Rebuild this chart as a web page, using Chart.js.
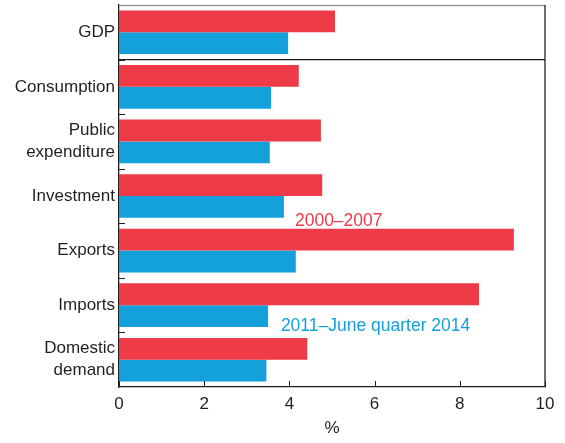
<!DOCTYPE html>
<html>
<head>
<meta charset="utf-8">
<script src="https://cdn.jsdelivr.net/npm/chart.js@4"></script>
<style>
  html, body { margin: 0; padding: 0; background: #fff; }
  #wrap { width: 565px; height: 443px; }
</style>
</head>
<body>
<div id="wrap"><canvas id="myChart" width="565" height="443"></canvas></div>
<script>
const categories = ['GDP', 'Consumption', ['Public', 'expenditure'], 'Investment', 'Exports', 'Imports', ['Domestic', 'demand']];
const series2000 = [5.07, 4.22, 4.74, 4.77, 9.27, 8.45, 4.42];
const series2011 = [3.97, 3.57, 3.54, 3.87, 4.15, 3.50, 3.46];
const xTicks = [0, 2, 4, 6, 8, 10];

const RED = '#ef3a47';
const BLUE = '#13a0db';
const INK = '#231f20';
const FONT = '"Liberation Sans", Arial, sans-serif';

// box, GDP separator, inside tick marks and series labels
const framePlugin = {
    id: 'frame',
    afterDraw(chart) {
        const ctx = chart.ctx;
        const a = chart.chartArea;
        const x = chart.scales.x;
        const y = chart.scales.y;
        ctx.save();
        ctx.lineWidth = 1.3;
        ctx.strokeStyle = '#9a9a9a';
        ctx.beginPath();
        ctx.moveTo(a.left, a.top + 0.5);
        ctx.lineTo(a.right, a.top + 0.5);
        ctx.stroke();
        ctx.strokeStyle = INK;
        ctx.beginPath();
        ctx.moveTo(a.right, a.top);
        ctx.lineTo(a.right, a.bottom);
        ctx.stroke();
        // separator between GDP and components
        const sep = (y.getPixelForValue(0) + y.getPixelForValue(1)) / 2;
        ctx.beginPath();
        ctx.moveTo(a.left, sep);
        ctx.lineTo(a.right, sep);
        ctx.stroke();
        // small category ticks inside left axis
        ctx.lineWidth = 1;
        for (let i = 1; i < categories.length; i++) {
            const p = Math.round((y.getPixelForValue(i - 1) + y.getPixelForValue(i)) / 2) + 0.5;
            ctx.beginPath();
            ctx.moveTo(a.left, p);
            ctx.lineTo(a.left + 6, p);
            ctx.stroke();
        }
        // x ticks pointing up into plot
        xTicks.forEach(v => {
            const p = Math.round(x.getPixelForValue(v)) + 0.5;
            ctx.beginPath();
            ctx.moveTo(p, a.bottom);
            ctx.lineTo(p, a.bottom - 6);
            ctx.stroke();
        });
        // series labels
        ctx.font = '17.5px ' + FONT;
        ctx.textBaseline = 'middle';
        ctx.textAlign = 'left';
        ctx.fillStyle = RED;
        ctx.fillText('2000–2007', x.getPixelForValue(4.13), y.getPixelForValue(3) + 25);
        ctx.fillStyle = BLUE;
        ctx.fillText('2011–June quarter 2014', x.getPixelForValue(3.8), y.getPixelForValue(5) + 21);
        ctx.restore();
    }
};

const ctx = document.getElementById('myChart').getContext('2d');
window.myChart = new Chart(ctx, {
    type: 'bar',
    data: {
        labels: categories,
        datasets: [{
            label: '2000–2007',
            data: series2000,
            backgroundColor: RED,
            borderWidth: 0,
            categoryPercentage: 0.8,
            barPercentage: 1.0
        }, {
            label: '2011–June quarter 2014',
            data: series2011,
            backgroundColor: BLUE,
            borderWidth: 0,
            categoryPercentage: 0.8,
            barPercentage: 1.0
        }]
    },
    options: {
        indexAxis: 'y',
        responsive: false,
        animation: false,
        layout: { padding: { top: 5, right: 20, left: 0, bottom: 0 } },
        plugins: {
            legend: { display: false },
            tooltip: { enabled: false }
        },
        scales: {
            x: {
                min: 0,
                max: 10,
                afterBuildTicks: s => { s.ticks = xTicks.map(v => ({ value: v })); },
                grid: { display: false, drawTicks: false },
                border: { display: true, color: INK, width: 1.3 },
                ticks: { color: INK, font: { size: 17, family: FONT }, padding: 7 },
                title: { display: true, text: '%', color: INK, font: { size: 17, family: FONT }, padding: { top: 8 } },
                afterFit: s => { s.height = 56; s.paddingLeft = 0; s.paddingRight = 0; }
            },
            y: {
                grid: { display: false, drawTicks: false },
                border: { display: true, color: INK, width: 1.3 },
                ticks: { color: INK, font: { size: 17, family: FONT, lineHeight: 1.3 }, padding: 4 },
                afterFit: s => { s.width = 119; s.paddingTop = 0; s.paddingBottom = 0; }
            }
        }
    },
    plugins: [framePlugin]
});
</script>
</body>
</html>
